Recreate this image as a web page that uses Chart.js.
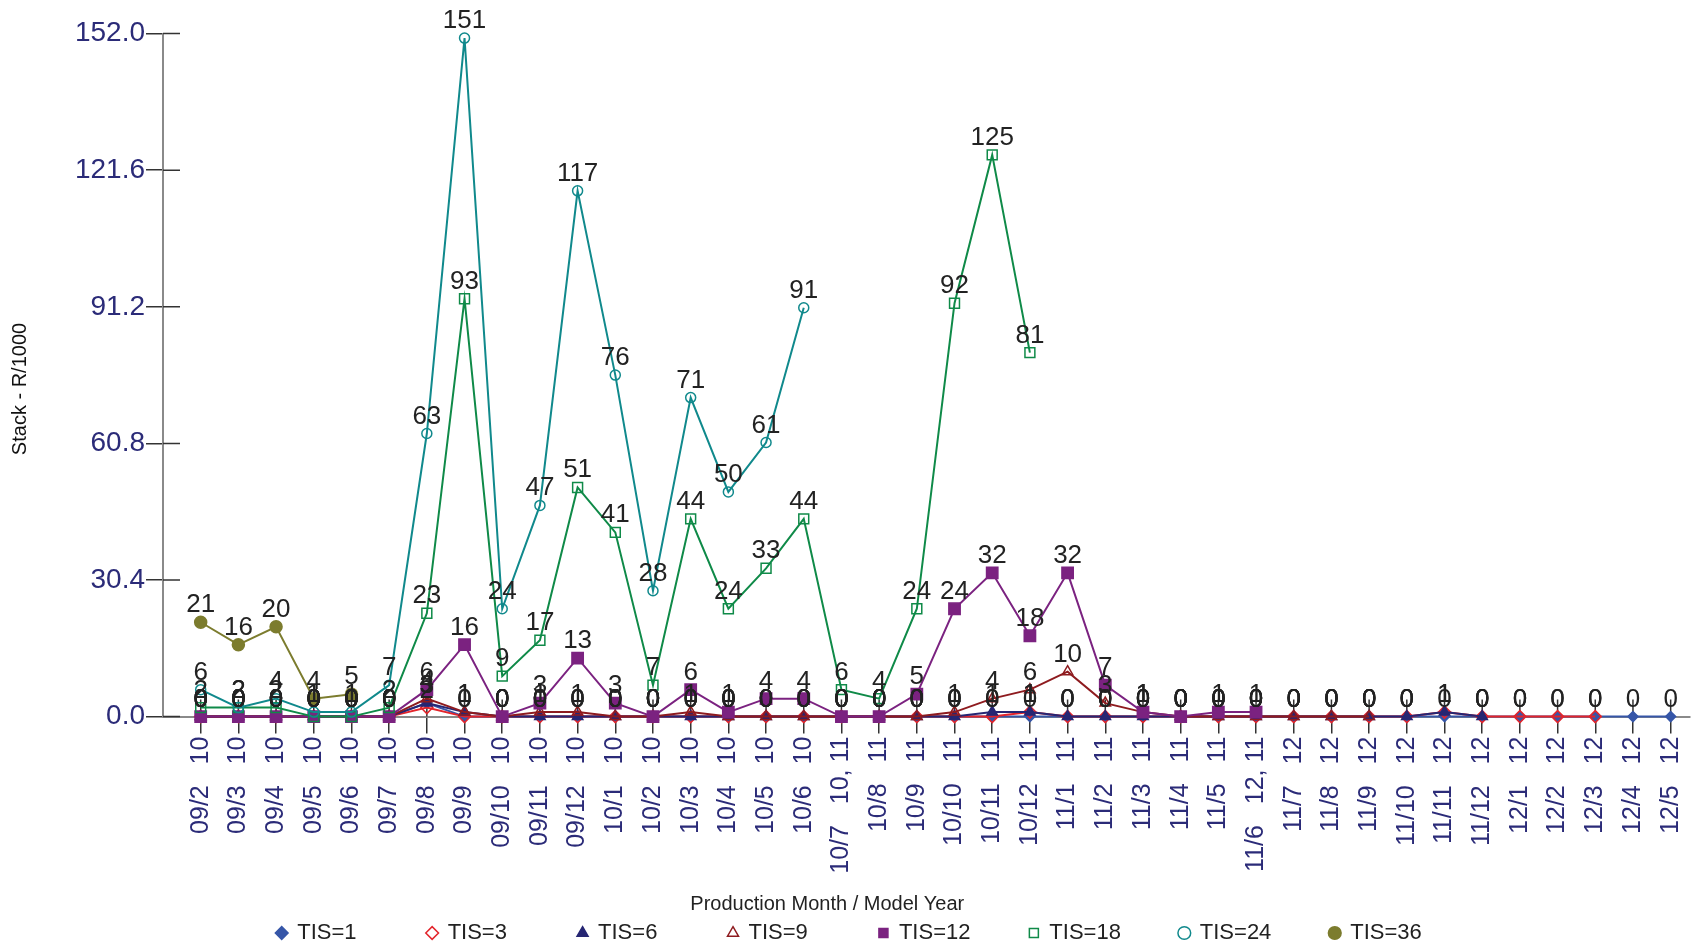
<!DOCTYPE html>
<html>
<head>
<meta charset="utf-8">
<title>Stack - R/1000</title>
<script src="https://cdn.jsdelivr.net/npm/chart.js@4.4.1/dist/chart.umd.min.js"></script>
<style>
  html, body { margin: 0; padding: 0; background: #fff; }
  #wrap { width: 1699px; height: 948px; }
</style>
</head>
<body>
<div id="wrap"><canvas id="chart"></canvas></div>
<script>
// production month / model year
const months = ['09/2', '09/3', '09/4', '09/5', '09/6', '09/7', '09/8', '09/9', '09/10', '09/11', '09/12',
    '10/1', '10/2', '10/3', '10/4', '10/5', '10/6', '10/7', '10/8', '10/9', '10/10', '10/11', '10/12',
    '11/1', '11/2', '11/3', '11/4', '11/5', '11/6', '11/7', '11/8', '11/9', '11/10', '11/11', '11/12',
    '12/1', '12/2', '12/3', '12/4', '12/5'];
const years = ['10', '10', '10', '10', '10', '10', '10', '10', '10', '10', '10',
    '10', '10', '10', '10', '10', '10', '10, 11', '11', '11', '11', '11', '11',
    '11', '11', '11', '11', '11', '12, 11', '12', '12', '12', '12', '12', '12',
    '12', '12', '12', '12', '12'];

const yTicks = [0, 30.4, 60.8, 91.2, 121.6, 152.0];

const tis1 = [0, 0, 0, 0, 0, 0, 3, 0, 0, 0, 0, 0, 0, 0, 0, 0, 0, 0, 0, 0, 0, 0, 0,
    0, 0, 0, 0, 0, 0, 0, 0, 0, 0, 0, 0, 0, 0, 0, 0, 0];
const tis3 = [0, 0, 0, 0, 0, 0, 2, 0, 0, 0, 0, 0, 0, 0, 0, 0, 0, 0, 0, 0, 0, 0, 1,
    0, 0, 0, 0, 0, 0, 0, 0, 0, 0, 1, 0, 0, 0, 0, null, null];
const tis6 = [0, 0, 0, 0, 0, 0, 3, 1, 0, 0, 0, 0, 0, 0, 0, 0, 0, 0, 0, 0, 0, 1, 1,
    0, 0, 0, 0, 0, 0, 0, 0, 0, 0, 1, 0, null, null, null, null, null];
const tis9 = [0, 0, 0, 0, 0, 0, 4, 1, 0, 1, 1, 0, 0, 1, 0, 0, 0, 0, 0, 0, 1, 4, 6,
    10, 3, 1, 0, 0, 0, 0, 0, 0, null, null, null, null, null, null, null, null];
const tis12 = [0, 0, 0, 0, 0, 0, 6, 16, 0, 3, 13, 3, 0, 6, 1, 4, 4, 0, 0, 5, 24, 32, 18,
    32, 7, 1, 0, 1, 1, null, null, null, null, null, null, null, null, null, null, null];
const tis18 = [2, 2, 2, 0, 0, 2, 23, 93, 9, 17, 51, 41, 7, 44, 24, 33, 44, 6, 4, 24, 92, 125, 81,
    null, null, null, null, null, null, null, null, null, null, null, null, null, null, null, null, null];
const tis24 = [6, 2, 4, 1, 1, 7, 63, 151, 24, 47, 117, 76, 28, 71, 50, 61, 91,
    null, null, null, null, null, null, null, null, null, null, null, null, null, null, null, null,
    null, null, null, null, null, null, null];
const tis36 = [21, 16, 20, 4, 5,
    null, null, null, null, null, null, null, null, null, null, null, null, null, null, null, null,
    null, null, null, null, null, null, null, null, null, null, null, null, null, null, null, null,
    null, null, null];

const toPoints = (arr) => arr.map((v, i) => ({ x: i, y: v }));

const FONT = "'Liberation Sans', Arial, Helvetica, sans-serif";
const AXIS_BLUE = '#2b2b78';
Chart.defaults.font.family = FONT;

const makeSeries = (label, values, color, style, radius, filled) => ({
    label: label,
    data: toPoints(values),
    borderColor: color,
    backgroundColor: filled ? color : 'rgba(255,255,255,0)',
    pointBorderColor: color,
    pointBackgroundColor: filled ? color : 'rgba(255,255,255,0)',
    pointStyle: style,
    pointRadius: radius,
    pointBorderWidth: 1.5,
    borderWidth: 2,
    tension: 0,
    spanGaps: false,
    clip: false,
});

const datasets = [
    makeSeries('TIS=1', tis1, '#3656a8', 'rectRot', 5, true),
    makeSeries('TIS=3', tis3, '#e3242b', 'rectRot', 6, false),
    makeSeries('TIS=6', tis6, '#262673', 'triangle', 6, true),
    makeSeries('TIS=9', tis9, '#8e1b1f', 'triangle', 6, false),
    makeSeries('TIS=12', tis12, '#7b2280', 'rect', 8, true),
    makeSeries('TIS=18', tis18, '#0f8a48', 'rect', 7, false),
    makeSeries('TIS=24', tis24, '#10898c', 'circle', 5, false),
    makeSeries('TIS=36', tis36, '#7c7c2e', 'circle', 6, true),
];
// later series sit on top
datasets.forEach((ds, i) => { ds.order = datasets.length - i; });

// tick marks that cross the axis line
const crossTicks = {
    id: 'crossTicks',
    beforeDatasetsDraw(chart) {
        const { ctx, chartArea } = chart;
        const xs = chart.scales.x, ys = chart.scales.y;
        ctx.save();
        ctx.strokeStyle = '#333';
        ctx.lineWidth = 1.5;
        ctx.beginPath();
        xs.ticks.forEach((t, i) => {
            const px = xs.getPixelForTick(i);
            ctx.moveTo(px, chartArea.bottom);
            ctx.lineTo(px, chartArea.bottom - 17);
        });
        ys.ticks.forEach((t, i) => {
            const py = ys.getPixelForTick(i);
            ctx.moveTo(chartArea.left, py);
            ctx.lineTo(chartArea.left + 17, py);
        });
        ctx.stroke();
        ctx.restore();
    }
};

// value written above each point
const valueLabels = {
    id: 'valueLabels',
    afterDatasetsDraw(chart) {
        const ctx = chart.ctx;
        ctx.save();
        ctx.font = '26px ' + FONT;
        ctx.fillStyle = '#222';
        ctx.textAlign = 'center';
        ctx.textBaseline = 'alphabetic';
        chart.data.datasets.forEach((ds, i) => {
            const meta = chart.getDatasetMeta(i);
            meta.data.forEach((pt, j) => {
                const v = ds.data[j].y;
                if (v === null || pt.skip) return;
                ctx.fillText(String(v), pt.x, pt.y - 10);
            });
        });
        ctx.restore();
    }
};

const ctx = document.getElementById('chart').getContext('2d');
new Chart(ctx, {
    type: 'line',
    data: { datasets: datasets },
    plugins: [crossTicks, valueLabels],
    options: {
        responsive: true,
        maintainAspectRatio: false,
        animation: false,
        layout: { padding: { top: 33.6, right: 0, bottom: -6, left: 0 } },
        scales: {
            x: {
                type: 'linear',
                min: -1,
                max: 39.5,
                afterBuildTicks: (scale) => {
                    scale.ticks = months.map((m, i) => ({ value: i }));
                },
                afterFit: (scale) => {
                    scale.height = 171.4;
                    scale.paddingLeft = 0;
                    scale.paddingRight = 0;
                },
                border: { color: '#8a8a8a', width: 2 },
                grid: { drawOnChartArea: false, tickLength: 17, color: '#333', lineWidth: 1.5 },
                ticks: {
                    autoSkip: false,
                    minRotation: 90,
                    maxRotation: 90,
                    padding: 3,
                    color: AXIS_BLUE,
                    font: { size: 25 },
                    callback: (value) => months[value] + '   ' + years[value],
                },
            },
            y: {
                min: 0,
                max: 152,
                afterBuildTicks: (scale) => {
                    scale.ticks = yTicks.map((v) => ({ value: v }));
                },
                afterFit: (scale) => {
                    scale.width = 163;
                    scale.paddingTop = 0;
                    scale.paddingBottom = 0;
                },
                border: { color: '#8a8a8a', width: 2 },
                grid: { drawOnChartArea: false, tickLength: 17, color: '#333', lineWidth: 1.5 },
                ticks: {
                    padding: 1,
                    color: AXIS_BLUE,
                    font: { size: 28 },
                    callback: (value) => value.toFixed(1),
                },
                title: {
                    display: true,
                    // trailing spaces nudge the centred title down a little
                    text: 'Stack - R/1000     ',
                    color: '#111',
                    font: { size: 20 },
                    padding: { top: 8, bottom: 0 },
                },
            },
        },
        plugins: {
            title: {
                display: true,
                // trailing spaces nudge the centred title left a little
                text: 'Production Month / Model Year        ',
                position: 'bottom',
                weight: 500,
                color: '#222',
                font: { size: 20, weight: 'normal' },
                padding: { top: 4, bottom: -4 },
            },
            legend: {
                position: 'bottom',
                labels: {
                    usePointStyle: true,
                    boxWidth: 9,
                    boxHeight: 9,
                    padding: 10,
                    color: '#222',
                    font: { size: 22 },
                    generateLabels: (chart) => {
                        const items = Chart.defaults.plugins.legend.labels.generateLabels(chart);
                        items.sort((a, b) => a.datasetIndex - b.datasetIndex);
                        items.forEach((it, i) => {
                            if (i < items.length - 1) {
                                it.text = it.text + ' '.repeat(it.text.length === 5 ? 10 : 8);
                            }
                        });
                        return items;
                    },
                },
            },
            tooltip: { enabled: false },
        },
    },
});
</script>
</body>
</html>
